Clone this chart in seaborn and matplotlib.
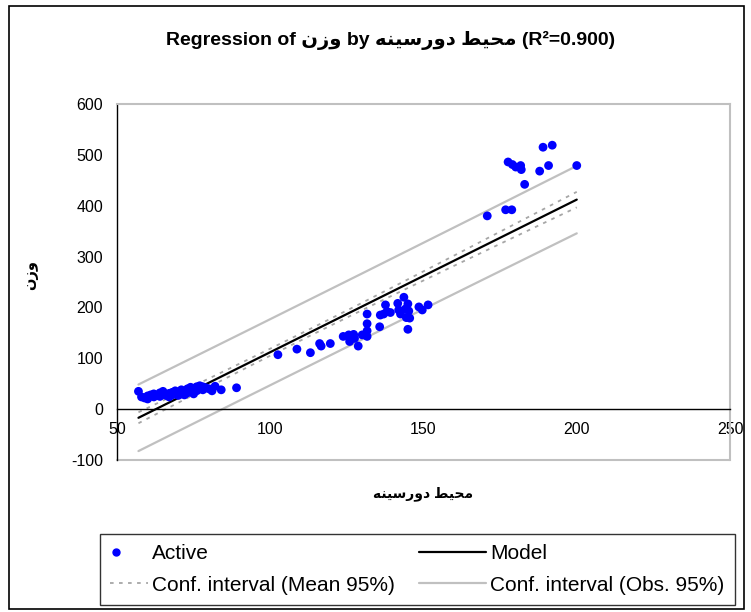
import numpy as np
import pandas as pd
import matplotlib
matplotlib.use("Agg")
import matplotlib.pyplot as plt
from matplotlib.lines import Line2D
from matplotlib.patches import Rectangle
from matplotlib.legend_handler import HandlerLine2D
import seaborn as sns

# Arabic labels, written as presentation forms in visual (left-to-right) order
# so that matplotlib shows them joined and right-to-left
y_name = "\uFEE5\uFEAF\uFEED"  # وزن
x_name = "\uFEEA\uFEE8\uFEF4\uFEB3\uFEAD\uFEED\uFEA9 \uFEC2\uFEF4\uFEA4\uFEE3"  # محيط دورسينه
title_text = f"Regression of {y_name} by {x_name} (R\u00b2=0.900)"

x_low = [57, 58, 59, 60, 60, 61, 62, 62, 63, 64, 64, 65, 65, 66, 67, 67, 68, 68,
         69, 69, 70, 70, 71, 71, 72, 72, 73, 73, 74, 74, 75, 75, 76, 76, 77, 77,
         78, 78, 79, 80, 81, 82, 84, 89]
y_low = [35, 24, 22, 26, 20, 28, 24, 30, 27, 32, 25, 29, 35, 27, 31, 24, 33, 28,
         30, 36, 27, 33, 38, 30, 35, 28, 40, 32, 36, 43, 38, 30, 44, 36, 40, 46,
         38, 44, 42, 40, 36, 45, 38, 42]
x_mid = [102.5, 108.7, 113.1, 116.1, 116.6, 119.6, 123.8, 125.6, 125.9, 127.2,
         127.5, 128.7, 130.0, 131.6, 131.6, 131.6, 131.6, 135.7, 135.9, 137.0,
         137.6, 138.1, 139.2, 141.6, 141.9, 142.5, 143.6, 144.1, 144.4, 144.9,
         144.9, 145.2, 145.5, 148.5, 149.6, 151.5]
y_mid = [107, 118, 111, 129, 124, 129, 143, 146, 133, 147,
         139, 124, 146, 187, 168, 154, 143, 162, 185, 187,
         205, 192, 190, 208, 195, 187, 220, 197, 180, 207,
         157, 193, 179, 201, 195, 205]
x_high = [170.8, 176.8, 177.6, 178.8, 179.0, 180.1, 181.7, 181.9, 183.0, 187.9,
          189.0, 190.8, 192.0, 200.0]
y_high = [380, 392, 486, 392, 481, 476, 479, 471, 442, 468,
          515, 479, 519, 479]

# model as drawn on the chart (line and interval widths)
model_intercept = -188.0
model_slope = 3.0
model_rmse = 32.5
t_crit = 1.986  # Student t, 95%

df = pd.DataFrame({"x": x_low + x_mid + x_high, "y": y_low + y_mid + y_high})

n = len(df)
xbar = df["x"].mean()
sxx = ((df["x"] - xbar) ** 2).sum()
xs = np.linspace(df["x"].min(), df["x"].max(), 200)
fit = model_intercept + model_slope * xs
se_mean = model_rmse * np.sqrt(1 / n + (xs - xbar) ** 2 / sxx)
se_obs = model_rmse * np.sqrt(1 + 1 / n + (xs - xbar) ** 2 / sxx)
band = pd.DataFrame({"x": xs, "fit": fit,
                     "m_lo": fit - t_crit * se_mean, "m_hi": fit + t_crit * se_mean,
                     "o_lo": fit - t_crit * se_obs, "o_hi": fit + t_crit * se_obs})

sns.set_style("white")
plt.rcParams["font.family"] = ["Liberation Sans", "DejaVu Sans"]
plt.rcParams["axes.unicode_minus"] = False
plt.rcParams["text.color"] = "black"
plt.rcParams["axes.labelcolor"] = "black"


class LongLine(HandlerLine2D):
    # legend line that reaches further left than the handle box
    def create_artists(self, legend, orig_handle, xdescent, ydescent,
                       width, height, fontsize, trans):
        y0 = height / 2 - ydescent
        line = Line2D([-xdescent - 0.8 * width, -xdescent + width], [y0, y0])
        self.update_prop(line, orig_handle, legend)
        line.set_transform(trans)
        return [line]


class LeftDot(HandlerLine2D):
    def create_artists(self, legend, orig_handle, xdescent, ydescent,
                       width, height, fontsize, trans):
        y0 = height / 2 - ydescent
        dot = Line2D([-xdescent + 0.15 * width], [y0])
        self.update_prop(dot, orig_handle, legend)
        dot.set_transform(trans)
        return [dot]


fig = plt.figure(figsize=(7.51, 6.12), dpi=100)
ax = fig.add_axes([117 / 751, 1 - 460 / 612, 613 / 751, 356 / 612])

obs_col = "#c0c0c0"
mean_col = "#a6a6a6"
for c in ["o_lo", "o_hi"]:
    sns.lineplot(data=band, x="x", y=c, ax=ax, color=obs_col, lw=1.6)
for c in ["m_lo", "m_hi"]:
    sns.lineplot(data=band, x="x", y=c, ax=ax, color=mean_col, lw=1.3,
                 dashes=False, linestyle=(0, (2, 3)))
sns.lineplot(data=band, x="x", y="fit", ax=ax, color="black", lw=1.6)
sns.scatterplot(data=df, x="x", y="y", ax=ax, color="#0000ff", s=40,
                edgecolor="none", zorder=5)

ax.set_xlim(50, 250)
ax.set_ylim(-100, 600)
ax.set_xticks([50, 100, 150, 200, 250])
ax.set_yticks(range(-100, 601, 100))
ax.tick_params(direction="inout", length=8, width=1, colors="black",
               labelsize=11.5)
ax.tick_params(axis="y", pad=6)
ax.tick_params(axis="x", pad=5)

for side in ["top", "right"]:
    ax.spines[side].set_color(obs_col)
    ax.spines[side].set_linewidth(1.5)
ax.spines["left"].set_color("black")
ax.spines["left"].set_linewidth(1)
ax.spines["bottom"].set_position(("data", 0))
ax.spines["bottom"].set_color("black")
ax.spines["bottom"].set_linewidth(1)
ax.axhline(-100, color=obs_col, lw=1.5, clip_on=False)

ax.set_xlabel(x_name, fontsize=10, fontweight="bold")
ax.xaxis.set_label_coords(0.5, -0.075)
ax.set_ylabel(y_name, fontsize=10.5, fontweight="bold")
ax.yaxis.set_label_coords(-0.128, 0.52)

fig.text(391 / 751, 1 - 40 / 612, title_text, ha="center", va="center",
         fontsize=14, fontweight="bold")

h_active = Line2D([], [], marker="o", color="#0000ff", ls="none", markersize=5)
h_mean = Line2D([], [], color=mean_col, lw=1.3, linestyle=(0, (2, 3)))
h_model = Line2D([], [], color="black", lw=1.6)
h_obs = Line2D([], [], color=obs_col, lw=1.6)
labels = ["Active", "Conf. interval (Mean 95%)", "Model", "Conf. interval (Obs. 95%)"]
leg = fig.legend([h_active, h_mean, h_model, h_obs], labels, ncol=2,
                 loc="lower left",
                 bbox_to_anchor=(100 / 751, 7 / 612, 635 / 751, 70 / 612),
                 mode="expand", fontsize=15, frameon=True, fancybox=False,
                 edgecolor="black", handlelength=1.8, labelspacing=0.6,
                 borderpad=0.5, borderaxespad=0, handletextpad=0.2,
                 handler_map={h_model: LongLine(), h_obs: LongLine(),
                              h_active: LeftDot()})
leg.get_frame().set_linewidth(1)

fig.patches.append(Rectangle((9 / 751, 1 - 609 / 612), 735 / 751, 603 / 612,
                             transform=fig.transFigure, fill=False,
                             edgecolor="black", lw=1.2))

fig.savefig("out.png", dpi=100)
